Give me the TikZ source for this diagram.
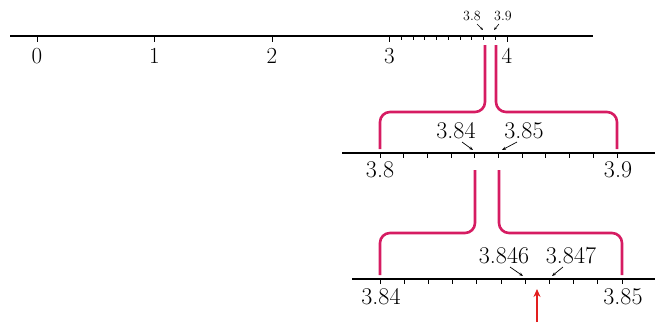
\documentclass[tikz,border=0pt]{standalone}
\usepackage{fontspec}
\usetikzlibrary{arrows.meta}
\definecolor{pinkbr}{RGB}{214,28,98}
\definecolor{redarr}{RGB}{226,30,30}
\tikzset{
  numline/.style={line width=1.3pt,black},
  tickmark/.style={line width=0.9pt,black},
  bracketline/.style={line width=2.6pt,pinkbr,rounded corners=10pt},
  biglab/.style={font=\fontsize{24}{24}\selectfont,inner sep=0pt},
  toplab/.style={font=\fontsize{23}{23}\selectfont,inner sep=0pt},
  smalllab/.style={font=\fontsize{14}{14}\selectfont,inner sep=0pt},
  ptr/.style={line width=0.7pt,-{Stealth[length=4pt,width=3pt]}},
  ptrs/.style={line width=0.6pt,-{Stealth[length=3pt,width=2.4pt]}}
}
\begin{document}
\begin{tikzpicture}[x=1pt,y=-1pt]
\useasboundingbox (0,0) rectangle (665,322);
% ---- top number line
\coordinate (L1a) at (10,36);
\coordinate (L1b) at (593,36);
\draw[numline] (L1a) -- (L1b);
\foreach \k in {0,1,2,3,4}{
  \coordinate (T\k) at ({37+117.5*\k},36);
  \draw[tickmark] (T\k) -- ++(0,6);
  \node[toplab] (n\k) at ({37+117.5*\k},56) {\k};
}
\foreach \i in {1,...,9}{
  \draw[tickmark] ({37+117.5*3+11.75*\i},36) -- ++(0,4);
}
\node[smalllab] (s38) at (472,16) {3.8};
\node[smalllab] (s39) at (503,16) {3.9};
\draw[ptrs] (477,24) -- (483,30);
\draw[ptrs] (499,24) -- (494,30);
% ---- first bracket
\coordinate (p1a) at (485,45);
\coordinate (p1b) at (496,45);
\draw[bracketline] (p1a) -- (485,112) -- (380,112) -- (380,149);
\draw[bracketline] (p1b) -- (496,112) -- (617,112) -- (617,149);
% ---- second number line
\draw[numline] (342,153) -- (655,153);
\foreach \i in {0,...,10}{
  \draw[tickmark] ({380+23.7*\i},152) -- ++(0,6);
}
\node[biglab] (m38) at (380,170) {3.8};
\node[biglab] (m39) at (618,170) {3.9};
\node[biglab] (m384) at (456,131) {3.84};
\node[biglab] (m385) at (524,131) {3.85};
\draw[ptr] (462,142) -- (473,150);
\draw[ptr] (517,142) -- (502,150);
% ---- second bracket
\draw[bracketline] (475,170) -- (475,233) -- (380,233) -- (380,275);
\draw[bracketline] (499,170) -- (499,233) -- (622,233) -- (622,275);
% ---- third number line
\draw[numline] (352,279) -- (655,279);
\foreach \i in {0,...,10}{
  \draw[tickmark] ({380+24.2*\i},278) -- ++(0,6);
}
\node[biglab] (b384) at (381,297) {3.84};
\node[biglab] (b385) at (623,297) {3.85};
\node[biglab] (b3846) at (504,256) {3.846};
\node[biglab] (b3847) at (571,256) {3.847};
\draw[ptr] (510,267) -- (523,276);
\draw[ptr] (563,267) -- (552,276);
% ---- red arrow
\coordinate (ra) at (537,322);
\coordinate (rb) at (537,289);
\draw[redarr,line width=2pt,-{Stealth[length=8pt,width=7pt]}] (ra) -- (rb);
\end{tikzpicture}
\end{document}
